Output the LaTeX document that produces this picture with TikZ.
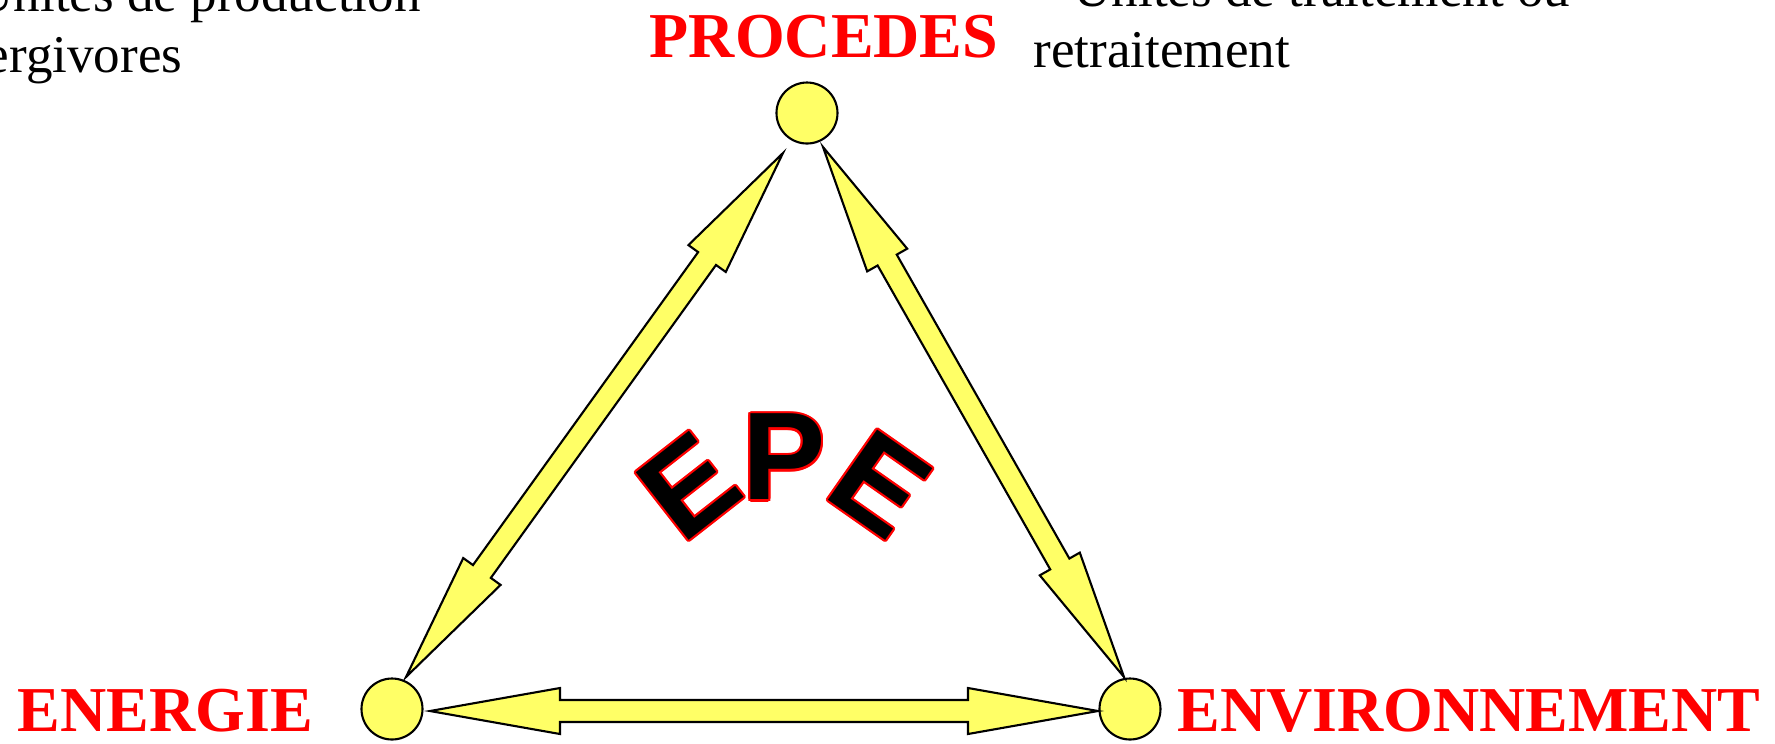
\documentclass[tikz,border=0pt]{standalone}
\usepackage{fontspec}
\setmainfont{Liberation Serif}
\newfontfamily\epefont{Liberation Sans}
\usetikzlibrary{calc}

\definecolor{epeyellow}{HTML}{FFFF66}

% block arrow with a head at both ends
\def\headlen{13mm}
\def\headw{2.3mm}
\def\shaftw{1.1mm}
\newcommand{\bigarrow}[2]{%
  \coordinate (ha) at ($(#1)!\headlen!(#2)$);
  \coordinate (hb) at ($(#2)!\headlen!(#1)$);
  \draw[bigarr] (#1) -- ($(ha)!\headw!90:(#2)$) -- ($(ha)!\shaftw!90:(#2)$)
    -- ($(hb)!\shaftw!-90:(#1)$) -- ($(hb)!\headw!-90:(#1)$) -- (#2)
    -- ($(hb)!\headw!90:(#1)$) -- ($(hb)!\shaftw!90:(#1)$)
    -- ($(ha)!\shaftw!-90:(#2)$) -- ($(ha)!\headw!-90:(#2)$) -- cycle;}

\begin{document}
\begin{tikzpicture}[x=0.1mm, y=-0.1mm,
    dot/.style={circle, draw, fill=epeyellow, line width=0.6pt, minimum size=6.1mm, inner sep=0pt},
    bigarr/.style={fill=epeyellow, line width=0.6pt},
    lbl/.style={text=red, inner sep=0pt, font=\fontsize{18.2}{20}\selectfont\bfseries},
    note/.style={inner sep=0pt, align=left, font=\fontsize{15.1}{17.1}\selectfont},
    epe/.style={inner sep=0pt, font=\epefont\fontsize{35.5}{37}\selectfont\bfseries}
]
\useasboundingbox (0,0) rectangle (1775,743);

% the three poles
\node[dot] (proc) at (807,113) {};
\node[dot] (ener) at (392,709) {};
\node[dot] (envi) at (1130,709) {};

\node[lbl, anchor=base] (proclbl) at (824,57) {PROCEDES};
\node[lbl, anchor=base west] (enerlbl) at (17,731) {ENERGIE};
\node[lbl, anchor=base west] (envilbl) at (1177,731) {ENVIRONNEMENT};

\node[note, anchor=base west] (prodnote) at (-65,72) {– Unités de production\\énergivores};
\node[note, anchor=base west] (tratnote) at (1033,67) {– Unités de traitement ou\\retraitement};

% arrow ends
\coordinate (l1) at ($(ener)+(14,-32)$);
\coordinate (l2) at ($(proc)+(-24,40)$);
\coordinate (r1) at ($(proc)+(16,34)$);
\coordinate (r2) at ($(envi)+(-6,-32)$);
\coordinate (b1) at ($(ener)+(38,2)$);
\coordinate (b2) at ($(envi)+(-32,2)$);

\bigarrow{l1}{l2}
\bigarrow{r1}{r2}
\bigarrow{b1}{b2}

% EPE in the middle
\coordinate (e1) at (689,486);
\coordinate (p1) at (784,457);
\coordinate (e2) at (880,484);
\foreach \a [count=\i] in {0,30,...,330} {
  \node[epe, text=red, rotate=38] (e1o\i) at ($(e1)+(\a:0.22mm)$) {E};
  \node[epe, text=red] (p1o\i) at ($(p1)+(\a:0.22mm)$) {P};
  \node[epe, text=red, rotate=-35] (e2o\i) at ($(e2)+(\a:0.22mm)$) {E};
}
\node[epe, rotate=38] (e1t) at (e1) {E};
\node[epe] (p1t) at (p1) {P};
\node[epe, rotate=-35] (e2t) at (e2) {E};
\end{tikzpicture}
\end{document}
